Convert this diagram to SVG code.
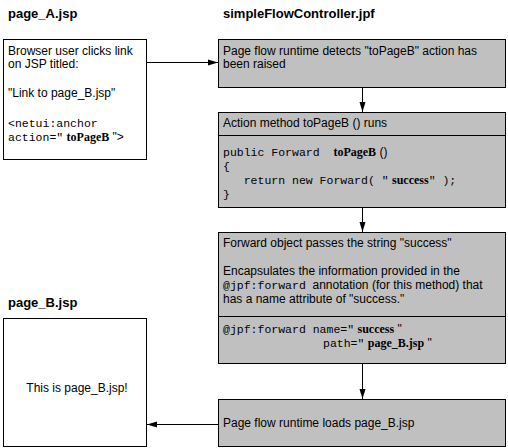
<svg xmlns="http://www.w3.org/2000/svg" width="508" height="448" viewBox="0 0 508 448">
<defs>
<marker id="arr" viewBox="0 0 10 8" refX="10" refY="4" markerWidth="10" markerHeight="8" markerUnits="userSpaceOnUse" orient="auto">
<path d="M0,1 L10,4 L0,7 Z" fill="#000"/>
</marker>
<style>
.box{stroke:#000;stroke-width:1}
.w{fill:#fff}
.g{fill:#c0c0c0}
.t{font-family:"Liberation Sans",Arial,sans-serif;font-size:12px;fill:#000}
.h{font-family:"Liberation Sans",Arial,sans-serif;font-size:13px;font-weight:bold;fill:#000}
.m{font-family:"Liberation Mono","Courier New",monospace;font-size:11.5px}
.mb{font-family:"Liberation Serif","Times New Roman",serif;font-size:12px;font-weight:bold}
.c{stroke:#000;stroke-width:1;fill:none;marker-end:url(#arr)}
</style>
</defs>
<rect width="508" height="448" fill="#fff"/>
<g id="titles">
<text class="h" x="8" y="18">page_A.jsp</text>
<text class="h" x="223" y="18">simpleFlowController.jpf</text>
<text class="h" x="8" y="307">page_B.jsp</text>
</g>
<g id="connectors">
<line class="c" x1="146.5" y1="62.5" x2="218" y2="62.5"/>
<line class="c" x1="362.5" y1="87.5" x2="362.5" y2="112"/>
<line class="c" x1="362.5" y1="207.5" x2="362.5" y2="232"/>
<line class="c" x1="362.5" y1="363.5" x2="362.5" y2="399"/>
<line class="c" x1="218.5" y1="424.5" x2="147" y2="424.5"/>
</g>
<g id="pageA">
<rect class="box w" x="3.5" y="39.5" width="143" height="120"/>
<text class="t" x="8" y="55">Browser user clicks link</text>
<text class="t" x="8" y="68">on JSP titled:</text>
<text class="t" x="8" y="97">"Link to page_B.jsp"</text>
<text class="t m" x="8" y="127">&lt;netui:anchor</text>
<text class="t" x="8" y="141" xml:space="preserve"><tspan class="m">action="</tspan> <tspan class="mb">toPageB</tspan> "&gt;</text>
</g>
<g id="detect">
<rect class="box g" x="218.5" y="39.5" width="287" height="48"/>
<text class="t" x="223" y="55">Page flow runtime detects "toPageB" action has</text>
<text class="t" x="223" y="68">been raised</text>
</g>
<g id="action">
<rect class="box g" x="218.5" y="112.5" width="287" height="95"/>
<line class="box" x1="218.5" y1="135.5" x2="505.5" y2="135.5"/>
<text class="t" x="223" y="127">Action method toPageB () runs</text>
<text class="t" x="223" y="156" xml:space="preserve"><tspan class="m">public Forward  </tspan><tspan class="mb">toPageB</tspan> ()</text>
<text class="t m" x="223" y="170">{</text>
<text class="t" x="223" y="184" xml:space="preserve"><tspan class="m">   return new Forward( "</tspan> <tspan class="mb">success</tspan><tspan class="m">" );</tspan></text>
<text class="t m" x="223" y="198">}</text>
</g>
<g id="forward">
<rect class="box g" x="218.5" y="232.5" width="287" height="131"/>
<line class="box" x1="218.5" y1="316.5" x2="505.5" y2="316.5"/>
<text class="t" x="223" y="247">Forward object passes the string "success"</text>
<text class="t" x="223" y="275">Encapsulates the information provided in the</text>
<text class="t" x="223" y="289" xml:space="preserve"><tspan class="m">@jpf:forward</tspan>  annotation (for this method) that</text>
<text class="t" x="223" y="303">has a name attribute of "success."</text>
<text class="t" x="223" y="333" xml:space="preserve"><tspan class="m">@jpf:forward name="</tspan> <tspan class="mb">success</tspan> "</text>
<text class="t" x="323" y="347" xml:space="preserve"><tspan class="m">path="</tspan> <tspan class="mb">page_B.jsp</tspan> "</text>
</g>
<g id="loads">
<rect class="box g" x="218.5" y="399.5" width="287" height="47"/>
<text class="t" x="223" y="427">Page flow runtime loads page_B.jsp</text>
</g>
<g id="pageB">
<rect class="box w" x="3.5" y="318.5" width="143" height="128"/>
<text class="t" x="77" y="392" text-anchor="middle">This is page_B.jsp!</text>
</g>
</svg>
